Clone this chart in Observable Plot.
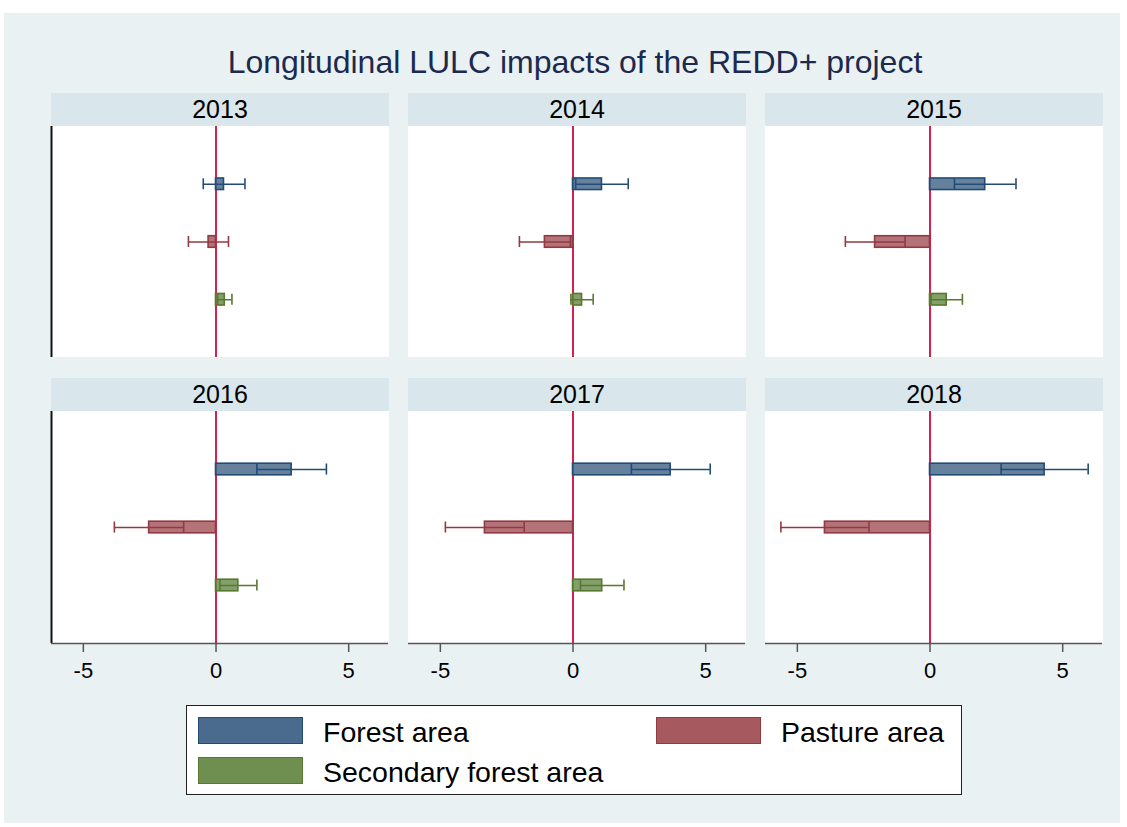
<!DOCTYPE html>
<html>
<head>
<meta charset="utf-8">
<script src="https://cdn.jsdelivr.net/npm/d3@7"></script>
<script src="https://cdn.jsdelivr.net/npm/@observablehq/plot@0.6"></script>
<style>
  html, body { margin: 0; padding: 0; background: #ffffff; }
  body { width: 1127px; height: 827px; position: relative; overflow: hidden;
         font-family: "Liberation Sans", Arial, sans-serif; }
  #bg { position: absolute; left: 4px; top: 13px; width: 1116px; height: 810px; background: #eaf1f3; }
  #title { position: absolute; left: 0; width: 1150px; top: 46px; text-align: center;
           font-size: 32px; line-height: 32px; color: #1b2a4e; white-space: nowrap; }
  .strip { position: absolute; height: 33px; background: #d9e6eb; color: #000;
           font-size: 25px; line-height: 33px; text-align: center; }
  .area { position: absolute; background: #ffffff; }
  .panel { position: absolute; }
  .panel svg { overflow: visible; background: transparent; }
  #legend { position: absolute; left: 186px; top: 705px; width: 774px; height: 88px;
            background: #ffffff; border: 1.5px solid #222; }
  .sw { position: absolute; width: 103px; height: 25px; border: 1.5px solid; }
  .lt { position: absolute; font-size: 28.5px; line-height: 28px; color: #000; white-space: nowrap; }
</style>
</head>
<body>
<div id="bg"></div>
<div id="title">Longitudinal LULC impacts of the REDD+ project</div>
<div id="legend"></div>
<script>
// ---- data ----
const years = [2013, 2014, 2015, 2016, 2017, 2018];
const categories = ["Forest area", "Pasture area", "Secondary forest area"];
const forestEst    = [0.30, 1.09, 2.08, 2.85, 3.68, 4.32];
const forestLo     = [-0.48, 0.10, 0.92, 1.54, 2.20, 2.68];
const forestHi     = [1.09, 2.08, 3.24, 4.16, 5.17, 5.96];
const pastureEst   = [-0.28, -1.06, -2.07, -2.52, -3.32, -3.96];
const pastureLo    = [-1.04, -2.02, -3.19, -3.83, -4.81, -5.62];
const pastureHi    = [0.47, -0.10, -0.94, -1.22, -1.84, -2.30];
const secondaryEst = [0.33, 0.34, 0.63, 0.84, 1.10, null];
const secondaryLo  = [0.06, -0.08, 0.04, 0.15, 0.28, null];
const secondaryHi  = [0.60, 0.76, 1.22, 1.54, 1.92, null];
const xTicks = [-5, 0, 5];
const xDomain = [-6.2, 6.5];

// ---- styles / layout ----
const seriesStyle = [
  {fill: "#4a6b8d", stroke: "#234c75"},
  {fill: "#a65a60", stroke: "#923a41"},
  {fill: "#6f8f50", stroke: "#58782f"}
];
const zeroColor = "#d42250";
const colLeft = [51, 408, 765];
const panelW = 337;
const stripTop = [93, 378];
const stripH = 33;
const plotH = [231, 232];
const axisH = 45;
const half = 0.1;

const estArr = [forestEst, pastureEst, secondaryEst];
const loArr = [forestLo, pastureLo, secondaryLo];
const hiArr = [forestHi, pastureHi, secondaryHi];

const rows = [];
years.forEach((yr, i) => {
  categories.forEach((cat, k) => {
    if (estArr[k][i] == null) return;
    rows.push({year: yr, cat, pos: k + 1, est: estArr[k][i], lo: loArr[k][i], hi: hiArr[k][i]});
  });
});
const yDomain = [0, categories.length + 1];

years.forEach((yr, i) => {
  const r = Math.floor(i / 3), c = i % 3;
  const left = colLeft[c];
  const strip = document.createElement("div");
  strip.className = "strip";
  strip.style.left = left + "px";
  strip.style.top = stripTop[r] + "px";
  strip.style.width = panelW + 1 + "px";
  strip.textContent = String(yr);
  document.body.appendChild(strip);

  const area = document.createElement("div");
  area.className = "area";
  area.style.left = left + "px";
  area.style.top = (stripTop[r] + stripH) + "px";
  area.style.width = panelW + 1 + "px";
  area.style.height = plotH[r] + "px";
  document.body.appendChild(area);

  const data = rows.filter(d => d.year === yr);
  const bottom = r === 1;
  const marks = [];
  marks.push(Plot.ruleX([0], {stroke: zeroColor, strokeWidth: 2}));
  categories.forEach((cat, k) => {
    const dd = data.filter(d => d.cat === cat);
    const st = seriesStyle[k];
    marks.push(Plot.rectX(dd, {x1: 0, x2: "est", y1: d => d.pos - half, y2: d => d.pos + half,
      fill: st.fill, fillOpacity: 0.85, stroke: st.stroke, strokeWidth: 1.6}));
    marks.push(Plot.ruleY(dd, {y: "pos", x1: "lo", x2: "hi", stroke: st.stroke, strokeWidth: 1.5}));
    marks.push(Plot.ruleX(dd, {x: "lo", y1: d => d.pos - half * 0.95, y2: d => d.pos + half * 0.95, stroke: st.stroke, strokeWidth: 1.6}));
    marks.push(Plot.ruleX(dd, {x: "hi", y1: d => d.pos - half * 0.95, y2: d => d.pos + half * 0.95, stroke: st.stroke, strokeWidth: 1.6}));
  });
  if (c === 0) marks.push(Plot.ruleX([xDomain[0]], {stroke: "#111", strokeWidth: 2}));
  if (bottom) {
    marks.push(Plot.ruleY([yDomain[1]], {stroke: "#555", strokeWidth: 1.5}));
    marks.push(Plot.axisX({ticks: xTicks, tickSize: 9, tickPadding: 10, stroke: "#555", strokeWidth: 1.5,
      tickFormat: d => String(d), fontSize: 22, fill: "#000"}));
  }
  const plot = Plot.plot({
    width: panelW,
    height: plotH[r] + (bottom ? axisH : 0),
    marginLeft: 0, marginRight: 0, marginTop: 0,
    marginBottom: bottom ? axisH : 0,
    x: {domain: xDomain, axis: null},
    y: {domain: yDomain, reverse: true, axis: null},
    style: {fontFamily: "Liberation Sans, Arial, sans-serif", fontSize: "22px", background: "transparent", overflow: "visible"},
    marks
  });
  const wrap = document.createElement("div");
  wrap.className = "panel";
  wrap.style.left = left + "px";
  wrap.style.top = (stripTop[r] + stripH) + "px";
  wrap.appendChild(plot);
  document.body.appendChild(wrap);
});

// ---- legend ----
const legend = document.getElementById("legend");
const legendPos = [[11, 11, 136], [469, 11, 594], [11, 51, 136]];
categories.forEach((cat, k) => {
  const [sx, sy, tx] = legendPos[k];
  const sw = document.createElement("div");
  sw.className = "sw";
  sw.style.left = sx + "px"; sw.style.top = sy + "px";
  sw.style.background = seriesStyle[k].fill;
  sw.style.borderColor = seriesStyle[k].stroke;
  legend.appendChild(sw);
  const t = document.createElement("div");
  t.className = "lt";
  t.style.left = tx + "px"; t.style.top = (sy + 1) + "px";
  t.textContent = cat;
  legend.appendChild(t);
});
</script>
</body>
</html>
